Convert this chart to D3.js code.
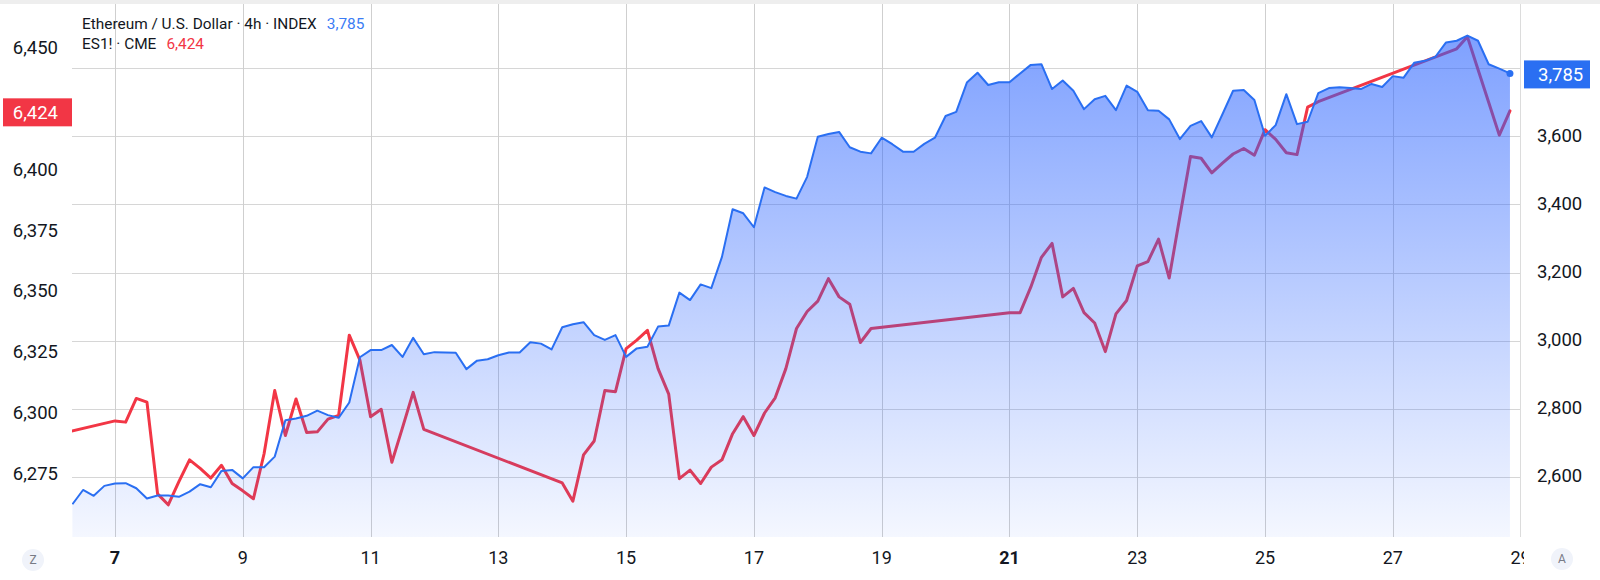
<!DOCTYPE html>
<html><head><meta charset="utf-8">
<script src="https://cdn.jsdelivr.net/npm/d3@7"></script>
<style>html,body{margin:0;padding:0;background:#fff;overflow:hidden}</style>
</head><body><svg id="c" width="1600" height="580"></svg>
<script>
// ---- data (4h bars, index 0 = Jul 6 08:00) ----
const ethPrice = [
 2519,2561,2544,2573,2580,2581,2566,2536,2545,2545,2541,2556,2578,2569,2617,2620,2595,2628,2628,2659,
 2766,2771,2779,2794,2781,2773,2818,2951,2972,2972,2987,2952,3008,2960,2966,2965,2964,2916,2941,2945,
 2957,2965,2965,2995,2991,2974,3039,3048,3054,3016,3002,3016,2952,2977,2982,3041,3044,3141,3119,3165,
 3154,3246,3386,3374,3333,3450,3436,3425,3417,3481,3599,3607,3613,3568,3555,3550,3596,3577,3555,3555,
 3578,3596,3660,3672,3758,3787,3751,3759,3759,3785,3810,3812,3739,3764,3734,3680,3709,3719,3677,3749,
 3731,3677,3675,3650,3592,3631,3645,3597,3665,3734,3736,3707,3602,3633,3724,3636,3643,3727,3742,3744,
 3742,3739,3754,3745,3777,3772,3816,3822,3834,3876,3881,3896,3881,3812,3799,3785];
const esBar = [-16,
 4,5,6,7,8,9,10,11,12,13,14,15,16,17,18,19,20,21,22,23,24,25,26,27,28,29,30,31,32,33,
 46,47,48,49,50,51,52,53,54,55,56,57,58,59,60,61,62,63,64,65,66,67,68,69,70,71,72,73,74,75,
 88,89,90,91,92,93,94,95,96,97,98,99,100,101,102,103,104,105,106,107,108,109,110,111,112,113,114,115,116,117,
 130,131,132,133,134,135];
const esPrice = [6276,
 6296.5,6296,6305.75,6304.25,6266.5,6262,6271.5,6280.5,6277,6273,6278.25,6270.75,6267.75,6264.5,6283,6309,6290.5,6305.5,6291.75,6292,6297.25,6298.75,6331.75,6321.5,6298.25,6301.25,6279.5,6293.75,6308.25,6293,
 6271,6263.5,6282.5,6288.25,6309,6308.5,6326.25,6329.75,6333.75,6318,6307.5,6272.75,6276.25,6270.75,6277.5,6280.5,6291.25,6298.25,6290.5,6299.75,6306,6318,6334.5,6341.5,6345.75,6355,6347.5,6344.5,6328.75,6334.5,
 6341,6341,6351.5,6363.75,6369.5,6347.5,6351,6341,6336.75,6325,6340.5,6346,6360.25,6362,6371.25,6355.25,6380.5,6405.25,6404.5,6398.5,6402.5,6406.25,6408.5,6405.75,6416.25,6412.25,6406.75,6406,6425.5,6427.75,
 6449.5,6454.5,6441,6427.5,6414,6424];
// 6,425 and 3,800 are hidden behind the last-price boxes in the reference
const leftTicks = [6275,6300,6325,6350,6375,6400,6450];
const rightTicks = [2600,2800,3000,3200,3400,3600];
const gridTicks = [2600,2800,3000,3200,3400,3600,3800];
const dayTicks = [7,9,11,13,15,17,19,21,23,25,27,29];
const boldDays = [7,21];
const ethLabel = "Ethereum / U.S. Dollar · 4h · INDEX";
const esLabel = "ES1! · CME";

// ---- setup ----
const START = Date.UTC(2025,6,6,8), H4 = 4*3600*1000;
const tAt = i => new Date(START + i*H4);
const L=72, R=1520, T=4, B=537;
const FONT = "Roboto, 'Liberation Sans', Arial, sans-serif";
const x = d3.scaleUtc().domain([new Date(Date.UTC(2025,6,7)), new Date(Date.UTC(2025,6,29))]).range([115,1520.6]);
const yR = d3.scaleLinear().domain([2600,3800]).range([476.7,68.3]);
const yL = d3.scaleLinear().domain([6275,6450]).range([473.2,47.6]);
const fmt = d3.format(",");
const BLUE="#2a6ff2", RED="#f23645", TXT="#131722";

const svg = d3.select("#c");
const defs = svg.append("defs");
defs.append("clipPath").attr("id","plot").append("rect").attr("x",L).attr("y",T).attr("width",R-L).attr("height",B-T);
defs.append("clipPath").attr("id","taxis").append("rect").attr("x",0).attr("y",B).attr("width",1524).attr("height",580-B);
const g = defs.append("linearGradient").attr("id","ag").attr("gradientUnits","userSpaceOnUse")
  .attr("x1",0).attr("x2",0).attr("y1",yR(d3.max(ethPrice))).attr("y2",B);
g.append("stop").attr("offset",0).attr("stop-color","rgb(41,98,255)").attr("stop-opacity",0.6);
g.append("stop").attr("offset",1).attr("stop-color","rgb(41,98,255)").attr("stop-opacity",0.05);

svg.append("rect").attr("x",0).attr("y",0).attr("width",1600).attr("height",4).attr("fill","#eeeeee");

// grid
const grid = svg.append("g").attr("shape-rendering","crispEdges");
grid.selectAll("line.h").data(gridTicks).join("line").attr("class","h")
  .attr("x1",L).attr("x2",R).attr("y1",d=>Math.round(yR(d))+0.5).attr("y2",d=>Math.round(yR(d))+0.5)
  .attr("stroke","#d6d6d6");
grid.selectAll("line.v").data(dayTicks.filter(d=>d<29)).join("line").attr("class","v")
  .attr("y1",T).attr("y2",B).attr("x1",d=>Math.round(x(new Date(Date.UTC(2025,6,d))))+0.5)
  .attr("x2",d=>Math.round(x(new Date(Date.UTC(2025,6,d))))+0.5).attr("stroke","#cfcfcf");
grid.append("line").attr("x1",R+0.5).attr("x2",R+0.5).attr("y1",T).attr("y2",B).attr("stroke","#dcdcdc");

const plot = svg.append("g").attr("clip-path","url(#plot)");
const es = esBar.map((b,k)=>({t:tAt(b), v:esPrice[k]}));
const eth = ethPrice.map((v,i)=>({t:tAt(i), v}));

plot.append("path").datum(es).attr("fill","none").attr("stroke",RED).attr("stroke-width",3)
  .attr("stroke-linejoin","round").attr("stroke-linecap","round")
  .attr("d", d3.line().x(d=>x(d.t)).y(d=>yL(d.v)));
plot.append("path").datum(eth).attr("fill","url(#ag)")
  .attr("d", d3.area().x(d=>x(d.t)).y0(B).y1(d=>yR(d.v)));
plot.append("path").datum(eth).attr("fill","none").attr("stroke",BLUE).attr("stroke-width",2)
  .attr("stroke-linejoin","round")
  .attr("d", d3.line().x(d=>x(d.t)).y(d=>yR(d.v)));
const last = eth[eth.length-1];
svg.append("circle").attr("cx",x(last.t)).attr("cy",yR(last.v)).attr("r",3.5).attr("fill",BLUE);

// legend
const lg = svg.append("g").style("font-family",FONT).style("font-size","15.4px");
const t1 = lg.append("text").attr("x",82).attr("y",28.5).attr("fill",TXT).text(ethLabel);
lg.append("text").attr("x",82+t1.node().getComputedTextLength()+10).attr("y",28.5).attr("fill","#3b7cf5").text(fmt(last.v));
const t2 = lg.append("text").attr("x",82).attr("y",48.5).attr("fill",TXT).text(esLabel);
lg.append("text").attr("x",82+t2.node().getComputedTextLength()+10).attr("y",48.5).attr("fill",RED).text(fmt(esPrice[esPrice.length-1]));

// axes labels
const ax = svg.append("g").style("font-family",FONT).style("font-size","18.5px").attr("fill",TXT);
ax.selectAll("text.l").data(leftTicks).join("text").attr("class","l")
  .attr("x",58).attr("y",d=>yL(d)).attr("dy","0.36em").attr("text-anchor","end").text(d=>fmt(d));
ax.selectAll("text.r").data(rightTicks).join("text").attr("class","r")
  .attr("x",1537).attr("y",d=>yR(d)-1).attr("dy","0.36em").text(d=>fmt(d));
const tx = svg.append("g").attr("clip-path","url(#taxis)").style("font-family",FONT).style("font-size","18px");
tx.selectAll("text").data(dayTicks).join("text")
  .attr("x",d=>x(new Date(Date.UTC(2025,6,d)))).attr("y",558).attr("dy","0.36em")
  .attr("text-anchor","middle").attr("fill",TXT)
  .attr("font-weight",d=>boldDays.includes(d)?"bold":"normal").text(d=>d);

// price boxes
const esLast = esPrice[esPrice.length-1];
const yb = yL(esLast)+1.5;
svg.append("rect").attr("x",3).attr("y",yb-14).attr("width",69).attr("height",28).attr("fill",RED);
svg.append("text").attr("x",58).attr("y",yb).attr("dy","0.36em").attr("text-anchor","end")
  .style("font-family",FONT).style("font-size","18.5px").attr("fill","#fff").text(fmt(esLast));
const yb2 = yR(last.v)+1;
svg.append("rect").attr("x",1524).attr("y",yb2-14).attr("width",66).attr("height",28).attr("fill",BLUE);
svg.append("text").attr("x",1538).attr("y",yb2).attr("dy","0.36em")
  .style("font-family",FONT).style("font-size","18.5px").attr("fill","#fff").text(fmt(last.v));

// Z / A buttons
[[33,560,"Z"],[1562,559,"A"]].forEach(([cx,cy,s])=>{
  svg.append("circle").attr("cx",cx).attr("cy",cy).attr("r",11).attr("fill","#f0f3fa");
  svg.append("text").attr("x",cx).attr("y",cy).attr("dy","0.36em").attr("text-anchor","middle")
    .style("font-family",FONT).style("font-size","12px").attr("fill","#787b86").text(s);
});
</script></body></html>
